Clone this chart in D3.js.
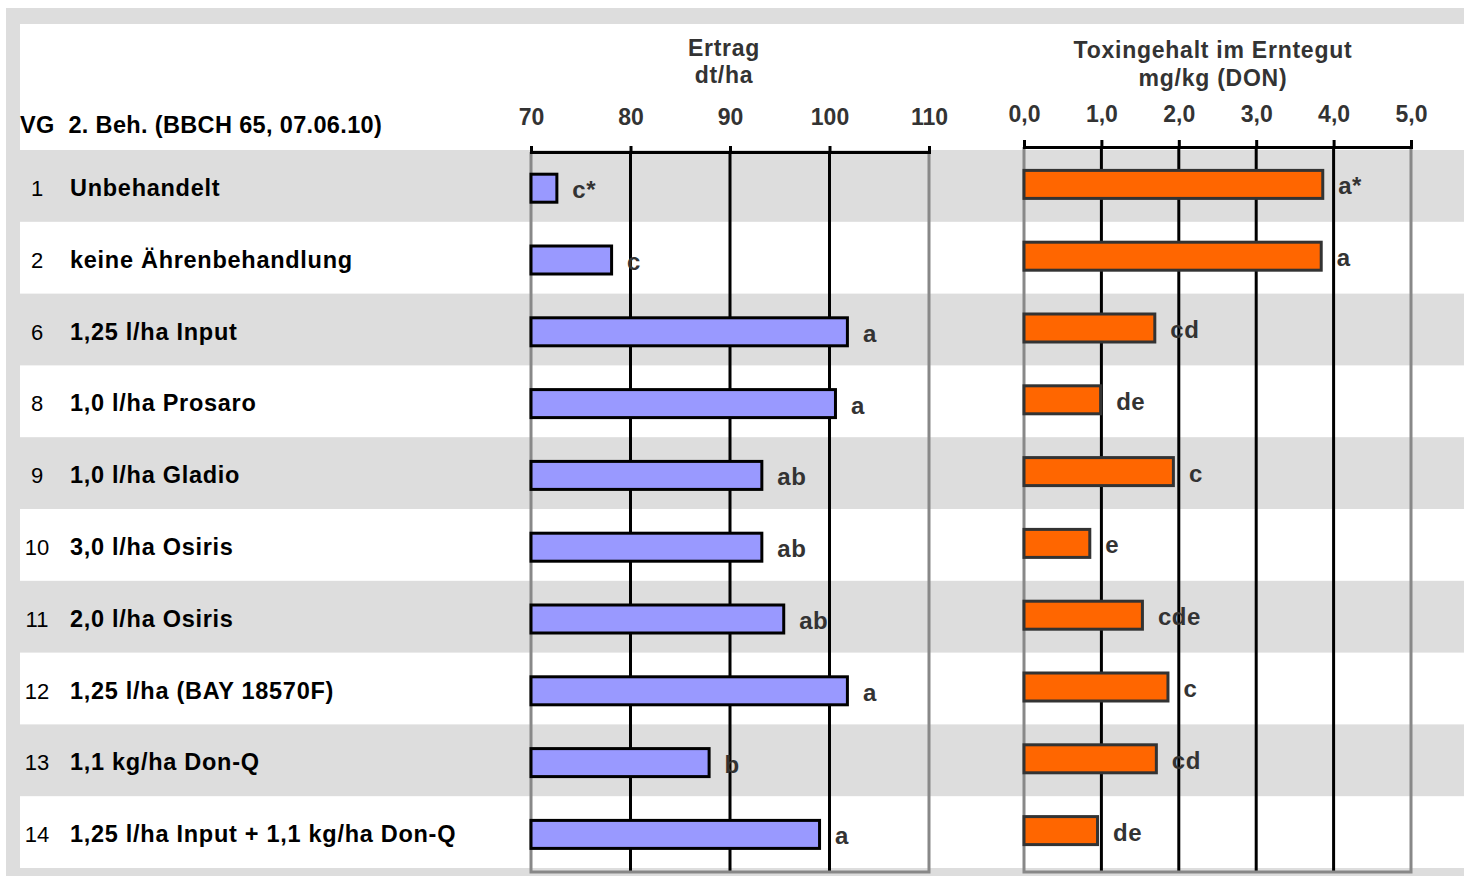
<!DOCTYPE html>
<html>
<head>
<meta charset="utf-8">
<script src="https://cdn.jsdelivr.net/npm/d3@7"></script>
<style>
  body { margin: 0; background: #fff; }
  svg { display: block; font-family: "Liberation Sans", Arial, sans-serif; }
</style>
</head>
<body>
<svg id="chart" width="1464" height="876"></svg>
<script>
// ---- data ----
const ids = ["1", "2", "6", "8", "9", "10", "11", "12", "13", "14"];
const treatments = [
  "Unbehandelt",
  "keine Ährenbehandlung",
  "1,25 l/ha Input",
  "1,0 l/ha Prosaro",
  "1,0 l/ha Gladio",
  "3,0 l/ha Osiris",
  "2,0 l/ha Osiris",
  "1,25 l/ha (BAY 18570F)",
  "1,1 kg/ha Don-Q",
  "1,25 l/ha Input + 1,1 kg/ha Don-Q"
];
const yieldValues = [72.6, 78.1, 101.8, 100.6, 93.2, 93.2, 95.4, 101.8, 87.9, 99.0];
const yieldLetters = ["c*", "c", "a", "a", "ab", "ab", "ab", "a", "b", "a"];
const toxinValues = [3.86, 3.84, 1.69, 0.99, 1.93, 0.85, 1.53, 1.86, 1.71, 0.95];
const toxinLetters = ["a*", "a", "cd", "de", "c", "e", "cde", "c", "cd", "de"];
const yieldTicks = [70, 80, 90, 100, 110];
const toxinTicks = [0, 1, 2, 3, 4, 5];
const headerLabel = "VG  2. Beh. (BBCH 65, 07.06.10)";
const yieldTitle = ["Ertrag", "dt/ha"];
const toxinTitle = ["Toxingehalt im Erntegut", "mg/kg (DON)"];

// ---- layout ----
const W = 1464, H = 876;
const GRAY = "#dddddd";
const svg = d3.select("#chart");

const rows = d3.range(ids.length);
const yRow = d3.scaleBand().domain(rows).range([150, 868]).paddingInner(0).paddingOuter(0);
const bw = yRow.bandwidth();

const xL = d3.scaleLinear().domain([70, 110]).range([531, 929]);
const xR = d3.scaleLinear().domain([0, 5]).range([1024, 1411]);
const plotBottom = 872;
const axisYL = 152, axisYR = 147;
const barH = 28;

// background
svg.append("rect").attr("x", 6).attr("y", 8).attr("width", W - 6).attr("height", H - 8).attr("fill", GRAY);
svg.append("rect").attr("x", 20).attr("y", 24).attr("width", W - 20).attr("height", 150 - 24).attr("fill", "#fff");
svg.append("g").selectAll("rect").data(rows.filter(i => i % 2 === 1)).join("rect")
  .attr("x", 20).attr("y", i => yRow(i)).attr("width", W - 20).attr("height", bw)
  .attr("fill", "#fff");

// header label
svg.append("text").attr("x", 20).attr("y", 133)
  .attr("font-size", 23.5).attr("font-weight", "bold").attr("fill", "#000")
  .attr("letter-spacing", 0.35)
  .attr("xml:space", "preserve").style("white-space", "pre")
  .text(headerLabel);

// row labels
const rowG = svg.append("g");
rowG.selectAll("text.num").data(rows).join("text").attr("class", "num")
  .attr("x", 37).attr("y", i => yRow(i) + bw / 2 + 10)
  .attr("text-anchor", "middle").attr("font-size", 22).attr("fill", "#000")
  .text(i => ids[i]);
rowG.selectAll("text.lab").data(rows).join("text").attr("class", "lab")
  .attr("x", 70).attr("y", i => yRow(i) + bw / 2 + 10)
  .attr("font-size", 23.5).attr("font-weight", "bold").attr("fill", "#000")
  .attr("letter-spacing", 0.72)
  .text(i => treatments[i]);

function panel(x, ticks, axisY, tickSize, pad, fmt, values, letters, fill, stroke, offset, title, titleDx, titleY) {
  const [x0, x1] = x.range();
  const g = svg.append("g");
  // gridlines
  g.selectAll("line.grid").data(ticks.slice(1, -1)).join("line").attr("class", "grid")
    .attr("x1", d => x(d)).attr("x2", d => x(d)).attr("y1", axisY).attr("y2", plotBottom)
    .attr("stroke", "#000").attr("stroke-width", 3);
  // border
  g.append("path")
    .attr("d", `M${x0},${axisY}V${plotBottom}H${x1}V${axisY}`)
    .attr("fill", "none").attr("stroke", "#888").attr("stroke-width", 3);
  // axis
  const ax = g.append("g").attr("transform", `translate(0,${axisY})`)
    .call(d3.axisTop(x).tickValues(ticks).tickSize(tickSize).tickSizeOuter(tickSize).tickPadding(pad).tickFormat(fmt));
  ax.select(".domain").attr("stroke", "#000").attr("stroke-width", 3);
  ax.selectAll(".tick line").attr("stroke", "#000").attr("stroke-width", 3);
  ax.selectAll(".tick text").attr("font-size", 23).attr("font-weight", "bold").attr("fill", "#333")
    .attr("font-family", "'Liberation Sans', Arial, sans-serif");
  // bars
  const dom0 = x.domain()[0];
  g.selectAll("rect.bar").data(rows).join("rect").attr("class", "bar")
    .attr("x", x(dom0)).attr("width", i => x(values[i]) - x(dom0))
    .attr("y", i => yRow(i) + bw / 2 - barH / 2 + offset).attr("height", barH)
    .attr("fill", fill).attr("stroke", stroke).attr("stroke-width", 3);
  // letters
  g.selectAll("text.sig").data(rows).join("text").attr("class", "sig")
    .attr("x", i => x(values[i]) + 15.5)
    .attr("y", i => yRow(i) + bw / 2 + offset + 10)
    .attr("font-size", 24).attr("font-weight", "bold").attr("fill", "#333")
    .attr("letter-spacing", 0.5)
    .text(i => letters[i]);
  // title
  const cx = (x0 + x1) / 2 + titleDx;
  g.selectAll("text.title").data(title).join("text").attr("class", "title")
    .attr("x", cx).attr("y", (d, j) => titleY[j]).attr("text-anchor", "middle")
    .attr("font-size", 23).attr("font-weight", "bold").attr("fill", "#333")
    .attr("letter-spacing", 0.75)
    .text(d => d);
}

panel(xL, yieldTicks, axisYL, 6, 21, d => String(d), yieldValues, yieldLetters,
  "#9999ff", "#000", 2.3, yieldTitle, -6, [56, 83]);
panel(xR, toxinTicks, axisYR, 7, 18, d => d3.format(".1f")(d).replace(".", ","), toxinValues, toxinLetters,
  "#ff6600", "#333", -1.5, toxinTitle, -4.5, [57.5, 86]);
</script>
</body>
</html>
